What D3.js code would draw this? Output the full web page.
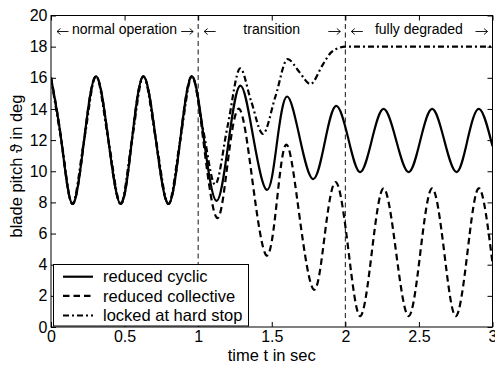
<!DOCTYPE html>
<html>
<head>
<meta charset="utf-8">
<script src="https://cdn.jsdelivr.net/npm/d3@7"></script>
<style>
  html, body { margin: 0; padding: 0; background: #fff; }
  svg { display: block; font-family: "Liberation Sans", Arial, Helvetica, sans-serif; }
</style>
</head>
<body>
<svg id="chart" width="495" height="365"></svg>
<script>
// Shared response during normal operation (0 … ~1 s)
const normalTime  = [0, 0.07, 0.145, 0.225, 0.306, 0.39, 0.474, 0.55, 0.628, 0.713, 0.798, 0.878, 0.958];
const normalPitch = [16.0, 12.0, 7.9, 12.0, 16.1, 12.0, 7.9, 12.0, 16.1, 12.0, 7.9, 12.0, 16.1];

// Reduced cyclic pitch after the fault
const cyclicTime  = [1.04, 1.125, 1.205, 1.286, 1.375, 1.467, 1.535, 1.603, 1.69, 1.78, 1.86, 1.937, 2.02, 2.10, 2.18, 2.26, 2.345, 2.43, 2.51, 2.59, 2.672, 2.755, 2.83, 2.91, 3.0];
const cyclicPitch = [12.0, 8.1, 11.8, 15.5, 12.15, 8.8, 11.8, 14.8, 12.15, 9.5, 11.85, 14.2, 12.1, 9.95, 12.0, 14.0, 12.0, 9.95, 12.0, 14.0, 12.0, 9.95, 12.0, 14.0, 11.6];

// Reduced collective pitch after the fault
const collectiveTime  = [1.04, 1.127, 1.2, 1.28, 1.37, 1.463, 1.535, 1.603, 1.69, 1.785, 1.86, 1.937, 2.02, 2.10, 2.18, 2.26, 2.345, 2.43, 2.51, 2.59, 2.672, 2.75, 2.83, 2.91, 3.0];
const collectivePitch = [11.6, 7.0, 10.5, 14.0, 9.3, 4.6, 8.1, 11.7, 7.0, 2.4, 5.9, 9.3, 5.0, 0.7, 4.8, 8.9, 4.8, 0.7, 4.8, 8.9, 4.8, 0.7, 4.8, 8.9, 4.1];

// Blade locked at the hard stop
const lockedTime  = [1.035, 1.115, 1.2, 1.286, 1.36, 1.44, 1.525, 1.608, 1.685, 1.762, 1.85, 1.9, 1.95, 2.0, 3.0];
const lockedPitch = [12.6, 9.15, 12.9, 16.6, 14.5, 12.4, 14.8, 17.2, 16.4, 15.6, 16.9, 17.6, 17.9, 18.0, 18.0];

const xTicks = [0, 0.5, 1, 1.5, 2, 2.5, 3];
const yTicks = [0, 2, 4, 6, 8, 10, 12, 14, 16, 18, 20];
const phaseBounds = [1, 2];

const seriesNames = ["reduced cyclic", "reduced collective", "locked at hard stop"];

const W = 495, H = 365;
const plotL = 51, plotR = 492.5, plotT = 15.5, plotB = 327;
const FONT = "'Liberation Sans', Arial, Helvetica, sans-serif";

const svg = d3.select("#chart");
svg.append("rect").attr("width", W).attr("height", H).attr("fill", "#fff");

const x = d3.scaleLinear().domain([0, 3]).range([plotL, plotR]);
const y = d3.scaleLinear().domain([0, 20]).range([plotB, plotT]);

const toPoints = (ts, vs) => ts.map((t, i) => ({ t, v: vs[i] }));
const normal = toPoints(normalTime, normalPitch);
const series = [
  { name: seriesNames[0], pts: normal.concat(toPoints(cyclicTime, cyclicPitch)), dash: null, curve: d3.curveNatural },
  { name: seriesNames[1], pts: normal.concat(toPoints(collectiveTime, collectivePitch)), dash: "6.5,4", curve: d3.curveNatural },
  { name: seriesNames[2], pts: normal.concat(toPoints(lockedTime, lockedPitch)), dash: "6,3,2,3", curve: d3.curveMonotoneX }
];

svg.append("clipPath").attr("id", "plot-clip")
  .append("rect").attr("x", plotL).attr("y", plotT).attr("width", plotR - plotL).attr("height", plotB - plotT);

// phase boundaries
svg.append("g").selectAll("line").data(phaseBounds).join("line")
  .attr("x1", d => x(d)).attr("x2", d => x(d))
  .attr("y1", plotT).attr("y2", plotB)
  .attr("stroke", "#111").attr("stroke-width", 1)
  .attr("stroke-dasharray", "5,3.5");

// curves, drawn back to front so the solid line ends on top
const plot = svg.append("g").attr("clip-path", "url(#plot-clip)");
series.slice().reverse().forEach(s => {
  const line = d3.line().x(d => x(d.t)).y(d => y(d.v)).curve(s.curve);
  plot.append("path").datum(s.pts)
    .attr("d", line)
    .attr("fill", "none")
    .attr("stroke", "#000")
    .attr("stroke-width", 2.2)
    .attr("stroke-dasharray", s.dash);
});

// axes with inward ticks on all four sides
const tickSize = 16, titleSize = 16.5;
const axB = svg.append("g").attr("transform", `translate(0,${plotB})`)
  .call(d3.axisBottom(x).tickValues(xTicks).tickSize(-5).tickPadding(4).tickFormat(d3.format("")));
const axL = svg.append("g").attr("transform", `translate(${plotL},0)`)
  .call(d3.axisLeft(y).tickValues(yTicks).tickSize(-5).tickPadding(3.5));
const axT = svg.append("g").attr("transform", `translate(0,${plotT})`)
  .call(d3.axisTop(x).tickValues(xTicks).tickSize(-5).tickFormat(""));
const axR = svg.append("g").attr("transform", `translate(${plotR},0)`)
  .call(d3.axisRight(y).tickValues(yTicks).tickSize(-5).tickFormat(""));
[axB, axL, axT, axR].forEach(a => {
  a.select(".domain").remove();
  a.selectAll("line").attr("stroke", "#000");
  a.selectAll("text").attr("font-size", tickSize).attr("fill", "#000").attr("font-family", FONT);
});

svg.append("rect").attr("x", plotL).attr("y", plotT)
  .attr("width", plotR - plotL).attr("height", plotB - plotT)
  .attr("fill", "none").attr("stroke", "#000").attr("stroke-width", 1);

// axis titles
svg.append("text").attr("x", (plotL + plotR) / 2).attr("y", 361)
  .attr("text-anchor", "middle").attr("font-size", titleSize).text("time t in sec");
svg.append("text").attr("transform", `translate(22,166) rotate(-90)`)
  .attr("text-anchor", "middle").attr("font-size", titleSize).text("blade pitch \u03D1 in deg");

// phase annotations with thin arrows marking each interval
const annY = 34, arrowY = 31.5, annSize = 14;
const ann = svg.append("g").attr("font-size", annSize).attr("text-anchor", "middle");
const phaseLabels = [
  { text: "normal operation", from: 0, to: 1 },
  { text: "transition", from: 1, to: 2 },
  { text: "fully degraded", from: 2, to: 3 }
];
const arrow = (tip, tail) => {
  const dir = Math.sign(tip - tail);
  return `M${tail},${arrowY}H${tip}M${tip - dir * 3.5},${arrowY - 3}L${tip},${arrowY}L${tip - dir * 3.5},${arrowY + 3}`;
};
phaseLabels.forEach(p => {
  ann.append("text").attr("x", (x(p.from) + x(p.to)) / 2).attr("y", annY).text(p.text);
  ann.append("path").attr("d", arrow(x(p.from) + 6, x(p.from) + 17.5))
    .attr("fill", "none").attr("stroke", "#000").attr("stroke-width", 0.9);
  ann.append("path").attr("d", arrow(x(p.to) - 5, x(p.to) - 17))
    .attr("fill", "none").attr("stroke", "#000").attr("stroke-width", 0.9);
});

// legend
const lg = svg.append("g");
lg.append("rect").attr("x", 53.5).attr("y", 264.5).attr("width", 195).attr("height", 61.5)
  .attr("fill", "#fff").attr("stroke", "#000").attr("stroke-width", 1);
const rowY = [276.7, 295.9, 315.5];
series.forEach((s, i) => {
  lg.append("line").attr("x1", 63).attr("x2", 93).attr("y1", rowY[i]).attr("y2", rowY[i])
    .attr("stroke", "#000").attr("stroke-width", 2.2).attr("stroke-dasharray", s.dash);
  lg.append("text").attr("x", 103).attr("y", rowY[i]).attr("dy", "0.35em")
    .attr("font-size", 16.5).text(s.name);
});
</script>
</body>
</html>
